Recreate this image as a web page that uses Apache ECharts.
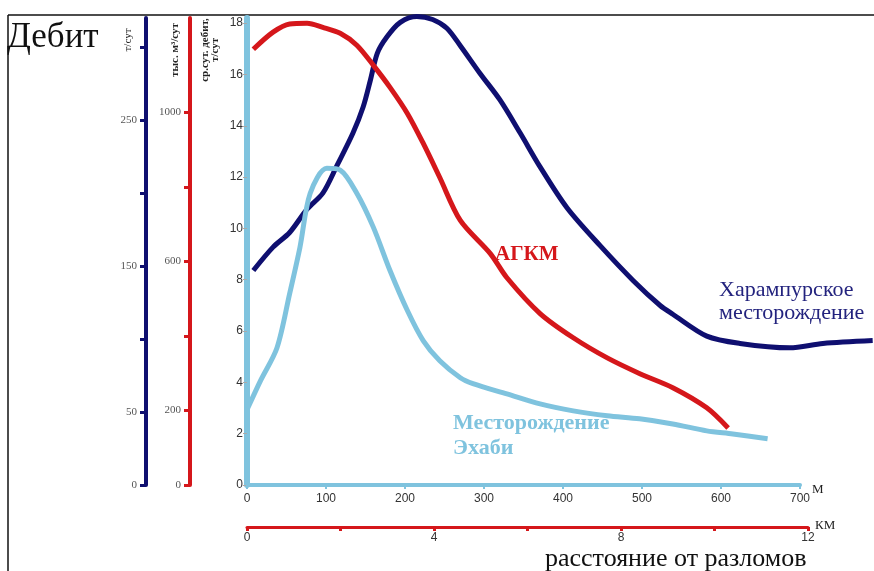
<!DOCTYPE html>
<html>
<head>
<meta charset="utf-8">
<script src="https://cdn.jsdelivr.net/npm/echarts@6/dist/echarts.min.js"></script>
<style>html,body{margin:0;padding:0;background:#fff;}#c{width:874px;height:571px;}</style>
</head>
<body>
<div id="c"></div>
<script>
// ---- data (distance in metres, values in each axis' own units) ----
const kharX = [8, 33, 54, 76, 96, 114, 134, 147, 156, 165, 177, 194, 215, 235, 253, 270, 295, 320, 346, 371, 405, 447, 489, 523, 539, 582, 624, 687, 729, 792];
const kharY = [147, 163, 173, 189, 200, 219, 241, 259, 277, 296, 307, 317, 321, 319, 313, 301, 282, 264, 241, 218, 190, 164, 140, 123, 117, 102, 97, 94, 97, 99];

const agkmX = [8, 33, 54, 76, 96, 118, 139, 160, 181, 203, 223, 244, 270, 308, 329, 371, 413, 456, 498, 539, 582, 609];
const agkmY = [1169, 1215, 1237, 1239, 1228, 1212, 1180, 1126, 1067, 997, 917, 825, 710, 621, 556, 460, 395, 341, 298, 261, 207, 153];

const ehabiX = [1, 17, 38, 54, 67, 80, 101, 118, 139, 160, 181, 203, 223, 244, 270, 286, 329, 371, 413, 456, 497, 539, 582, 615, 659];
const ehabiY = [3.0, 4.06, 5.35, 7.46, 9.26, 11.37, 12.34, 12.27, 11.37, 10.04, 8.36, 6.8, 5.63, 4.84, 4.18, 3.95, 3.55, 3.16, 2.89, 2.7, 2.58, 2.38, 2.11, 1.99, 1.8];

const mTicks = [0, 100, 200, 300, 400, 500, 600, 700];
const kmTicks = [0, 2, 4, 6, 8, 10, 12];
const kmLabels = [0, 4, 8, 12];
const ebTicks = [0, 2, 4, 6, 8, 10, 12, 14, 16, 18];
const tTicks = [0, 50, 100, 150, 200, 250, 300];
const tLabels = [0, 50, 150, 250];
const gasTicks = [0, 200, 400, 600, 800, 1000];
const gasLabels = [0, 200, 600, 1000];

const zip = (a, b) => a.map((v, i) => [v, b[i]]);

const NAVY = '#0f0f70', RED = '#d5171b', LBLUE = '#7fc3de';
const SERIF = '"Liberation Serif","DejaVu Serif",serif';
const SANS = '"Liberation Sans",Arial,sans-serif';

// layout
const PLOT_L = 247, M_END = 800, KM_END = 808, W = 874;
const M_MAX = 700, T_MAX = 320;
const M_FULL = M_MAX * (W - PLOT_L) / (M_END - PLOT_L); // metres at right edge of picture

const plain = v => String(v);

const chart = echarts.init(document.getElementById('c'), null, {renderer: 'canvas'});
chart.setOption({
  animation: false,
  backgroundColor: '#fff',
  grid: [
    {left: PLOT_L, right: W - M_END, top: 18, bottom: 86},
    {left: PLOT_L, right: W - KM_END, top: 18, bottom: 44},
    {left: PLOT_L, right: 0, top: 18, bottom: 86}
  ],
  xAxis: [
    {
      type: 'value', gridIndex: 0, min: 0, max: M_MAX,
      axisLine: {show: true, onZero: false, lineStyle: {color: LBLUE, width: 4}},
      axisTick: {show: true, customValues: mTicks, length: 4, lineStyle: {color: LBLUE, width: 2}},
      axisLabel: {customValues: mTicks, formatter: plain, color: '#333', fontFamily: SANS, fontSize: 12, margin: 8},
      splitLine: {show: false}
    },
    {
      type: 'value', gridIndex: 1, min: 0, max: 12,
      axisLine: {show: true, onZero: false, lineStyle: {color: RED, width: 3}},
      axisTick: {show: true, customValues: kmTicks, length: 4, lineStyle: {color: RED, width: 3}},
      axisLabel: {customValues: kmLabels, formatter: plain, color: '#333', fontFamily: SANS, fontSize: 12, margin: 5},
      splitLine: {show: false}
    },
    {type: 'value', gridIndex: 2, show: false, min: 0, max: M_FULL}
  ],
  yAxis: [
    {
      type: 'value', gridIndex: 0, position: 'left', offset: 0, min: 0, max: 18.2,
      axisLine: {show: true, onZero: false, lineStyle: {color: LBLUE, width: 6}},
      axisTick: {show: true, customValues: ebTicks, length: 4, lineStyle: {color: '#aaa', width: 1}},
      axisLabel: {customValues: ebTicks, formatter: plain, color: '#333', fontFamily: SANS, fontSize: 12, margin: 4},
      splitLine: {show: false}
    },
    {
      type: 'value', gridIndex: 0, position: 'left', offset: 57, min: 0, max: 1253,
      axisLine: {show: true, onZero: false, lineStyle: {color: RED, width: 4}},
      axisTick: {show: true, customValues: gasTicks, length: 6, lineStyle: {color: RED, width: 3}},
      axisLabel: {customValues: gasLabels, formatter: plain, color: '#555', fontFamily: SERIF, fontSize: 11, margin: 9},
      splitLine: {show: false}
    },
    {
      type: 'value', gridIndex: 0, position: 'left', offset: 101, min: 0, max: T_MAX,
      axisLine: {show: true, onZero: false, lineStyle: {color: NAVY, width: 4}},
      axisTick: {show: true, customValues: tTicks, length: 6, lineStyle: {color: NAVY, width: 3}},
      axisLabel: {customValues: tLabels, formatter: plain, color: '#555', fontFamily: SERIF, fontSize: 11, margin: 9},
      splitLine: {show: false}
    },
    {type: 'value', gridIndex: 1, show: false, min: 0, max: 1},
    {type: 'value', gridIndex: 2, show: false, min: 0, max: T_MAX}
  ],
  series: [
    {
      name: 'Харампурское месторождение', type: 'line', xAxisIndex: 2, yAxisIndex: 4,
      data: zip(kharX, kharY), smooth: 0.3, showSymbol: false, clip: false,
      lineStyle: {color: NAVY, width: 5}
    },
    {
      name: 'АГКМ', type: 'line', xAxisIndex: 0, yAxisIndex: 1,
      data: zip(agkmX, agkmY), smooth: 0.3, showSymbol: false, clip: false,
      lineStyle: {color: RED, width: 5}
    },
    {
      name: 'Месторождение Эхаби', type: 'line', xAxisIndex: 0, yAxisIndex: 0,
      data: zip(ehabiX, ehabiY), smooth: 0.3, showSymbol: false, clip: false,
      lineStyle: {color: LBLUE, width: 5}
    }
  ],
  graphic: [
    {type: 'line', shape: {x1: 8, y1: 15, x2: 874, y2: 15}, style: {stroke: '#111', lineWidth: 1.5}},
    {type: 'line', shape: {x1: 8, y1: 15, x2: 8, y2: 571}, style: {stroke: '#111', lineWidth: 1.5}},
    {type: 'text', x: 7, y: 38, style: {text: 'Дебит', fontFamily: SERIF, fontSize: 35, fill: '#111', textVerticalAlign: 'middle'}},
    {type: 'text', x: 128, y: 40, rotation: Math.PI / 2, style: {text: 'т/сут', fontFamily: SERIF, fontSize: 11, fill: '#222', textAlign: 'center', textVerticalAlign: 'middle'}},
    {type: 'text', x: 175, y: 50, rotation: Math.PI / 2, style: {text: 'тыс. м³/сут', fontFamily: SERIF, fontSize: 11, fontWeight: 'bold', fill: '#222', textAlign: 'center', textVerticalAlign: 'middle'}},
    {type: 'text', x: 210, y: 50, rotation: Math.PI / 2, style: {text: 'ср.сут. дебит,\nт/сут', fontFamily: SERIF, fontSize: 11, fontWeight: 'bold', lineHeight: 10, fill: '#222', textAlign: 'center', textVerticalAlign: 'middle'}},
    {type: 'text', x: 495, y: 255, style: {text: 'АГКМ', fontFamily: SERIF, fontSize: 21, fontWeight: 'bold', fill: RED, textVerticalAlign: 'middle'}},
    {type: 'text', x: 719, y: 302, style: {text: 'Харампурское\nместорождение', fontFamily: SERIF, fontSize: 22, lineHeight: 23, fill: '#23237e', textVerticalAlign: 'middle'}},
    {type: 'text', x: 453, y: 436, style: {text: 'Месторождение\nЭхаби', fontFamily: SERIF, fontSize: 22, fontWeight: 'bold', lineHeight: 25, fill: LBLUE, textVerticalAlign: 'middle'}},
    {type: 'text', x: 812, y: 490, style: {text: 'М', fontFamily: SERIF, fontSize: 13, fill: '#222', textVerticalAlign: 'middle'}},
    {type: 'text', x: 815, y: 526, style: {text: 'КМ', fontFamily: SERIF, fontSize: 13, fill: '#222', textVerticalAlign: 'middle'}},
    {type: 'text', x: 545, y: 559, style: {text: 'расстояние от разломов', fontFamily: SERIF, fontSize: 26, fill: '#111', textVerticalAlign: 'middle'}}
  ]
});
</script>
</body>
</html>
